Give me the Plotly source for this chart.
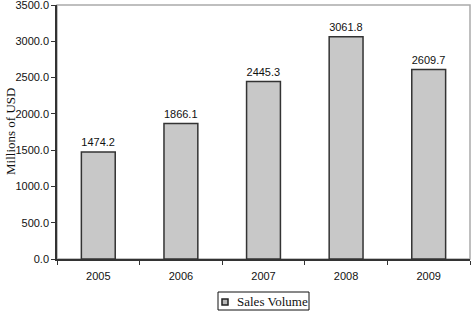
import plotly.graph_objects as go

years = ["2005", "2006", "2007", "2008", "2009"]
sales = [1474.2, 1866.1, 2445.3, 3061.8, 2609.7]
y_ticks = [0, 500, 1000, 1500, 2000, 2500, 3000, 3500]
series_name = "Sales Volume"

# plot area in pixels (for converting the legend box position to paper coords)
L, R, T, B, W, H = 57, 2, 5, 54, 472, 313
PW, PH = W - L - R, H - T - B
px = lambda x: (x - L) / PW
py = lambda y: (H - B - y) / PH

fig = go.Figure()
fig.add_trace(go.Bar(
    x=years, y=sales, name=series_name, showlegend=False,
    marker=dict(color="#c8c8c8", line=dict(color="#333333", width=1.5)),
    width=0.41,
    text=[f"{v:.1f}" for v in sales], textposition="outside",
    textfont=dict(family="Liberation Sans", size=12, color="#111111"),
    cliponaxis=False,
))

shapes = [
    dict(type="rect", xref="paper", yref="paper", x0=0, x1=1, y0=0, y1=1,
         line=dict(color="#aaaaaa", width=1.5), layer="below"),
    # legend frame
    dict(type="rect", xref="paper", yref="paper", x0=px(218), x1=px(309), y0=py(310), y1=py(292),
         line=dict(color="#111111", width=1), fillcolor="white"),
    # legend swatch
    dict(type="rect", xref="paper", yref="paper", x0=px(222), x1=px(228), y0=py(305), y1=py(299),
         line=dict(color="#222222", width=1.5), fillcolor="#b8b8b8"),
]

fig.update_layout(
    width=W, height=H,
    margin=dict(l=L, r=R, t=T, b=B, autoexpand=False),
    paper_bgcolor="white", plot_bgcolor="white",
    showlegend=False,
    xaxis=dict(type="category", tickson="boundaries", ticks="outside", ticklen=4,
               tickcolor="#333333", showline=True, linecolor="#333333", linewidth=1.5,
               tickfont=dict(family="Liberation Sans", size=11, color="#111111"),
               ticklabelstandoff=6,
               showgrid=False),
    yaxis=dict(range=[0, 3500], tickvals=y_ticks, tickformat=".1f", ticks="outside", ticklen=4,
               tickcolor="#333333", showline=True, linecolor="#333333", linewidth=1.5,
               tickfont=dict(family="Liberation Sans", size=11, color="#111111"),
               ticklabeloverflow="allow",
               showgrid=False, zeroline=False),
    shapes=shapes,
    annotations=[
        dict(text="Millions of USD", xref="paper", yref="paper",
             x=px(10), y=0.5, xanchor="center", yanchor="middle",
             textangle=-90, showarrow=False,
             font=dict(family="Liberation Serif", size=13, color="#111111")),
        dict(text=series_name, xref="paper", yref="paper",
             x=px(235), y=py(301.5), xanchor="left", yanchor="middle", showarrow=False,
             font=dict(family="Liberation Serif", size=13, color="#111111")),
    ],
)

fig.write_html("out.html")
